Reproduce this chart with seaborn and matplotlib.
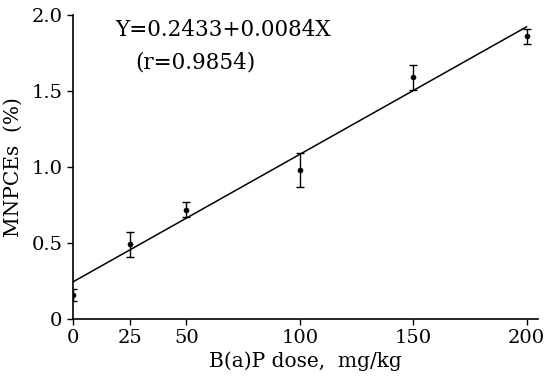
import numpy as np
import pandas as pd
import matplotlib.pyplot as plt
import seaborn as sns

# Values
dose = [0, 25, 50, 100, 150, 200]
mnpce = [0.16, 0.49, 0.72, 0.98, 1.59, 1.86]
err = [0.04, 0.08, 0.05, 0.11, 0.08, 0.05]
intercept = 0.2433
slope = 0.0084
r_value = 0.9854

df = pd.DataFrame({"dose": dose, "mnpce": mnpce, "err": err})
fit = pd.DataFrame({"dose": [0, 200]})
fit["y"] = intercept + slope * fit["dose"]

sns.set_style("ticks")
plt.rcParams["font.family"] = ["DejaVu Serif"]
plt.rcParams["text.color"] = "black"
plt.rcParams["axes.labelcolor"] = "black"

fig = plt.figure(figsize=(5.44, 3.87), dpi=100)
ax = fig.add_axes([0.134, 0.176, 0.855, 0.785])

sns.lineplot(data=fit, x="dose", y="y", color="black", linewidth=1.1, ax=ax)
ax.errorbar(df["dose"], df["mnpce"], yerr=df["err"], fmt="none",
            ecolor="black", elinewidth=1.0, capsize=3, capthick=1.0)
sns.scatterplot(data=df, x="dose", y="mnpce", color="black", s=14,
                edgecolor="black", ax=ax, zorder=5)

ax.text(66, 1.90, f"Y={intercept}+{slope}X", ha="center", va="center",
        fontsize=15.5, color="black")
ax.text(54, 1.69, f"(r={r_value})", ha="center", va="center",
        fontsize=15.5, color="black")

ax.set_xlim(0, 205)
ax.set_ylim(0, 2.0)
ax.set_xticks([0, 25, 50, 100, 150, 200])
ax.set_yticks([0, 0.5, 1.0, 1.5, 2.0])
ax.set_yticklabels(["0", "0.5", "1.0", "1.5", "2.0"])
ax.set_xlabel("B(a)P dose,  mg/kg", fontsize=14.5, labelpad=3, color="black")
ax.set_ylabel("MNPCEs  (%)", fontsize=14.5, labelpad=6, color="black")
ax.tick_params(direction="out", length=4, width=1, labelsize=14,
               colors="black", labelcolor="black")
for s in ["top", "right"]:
    ax.spines[s].set_visible(False)
for s in ["left", "bottom"]:
    ax.spines[s].set_color("black")
    ax.spines[s].set_linewidth(1.2)

plt.savefig("out.png", dpi=100)
